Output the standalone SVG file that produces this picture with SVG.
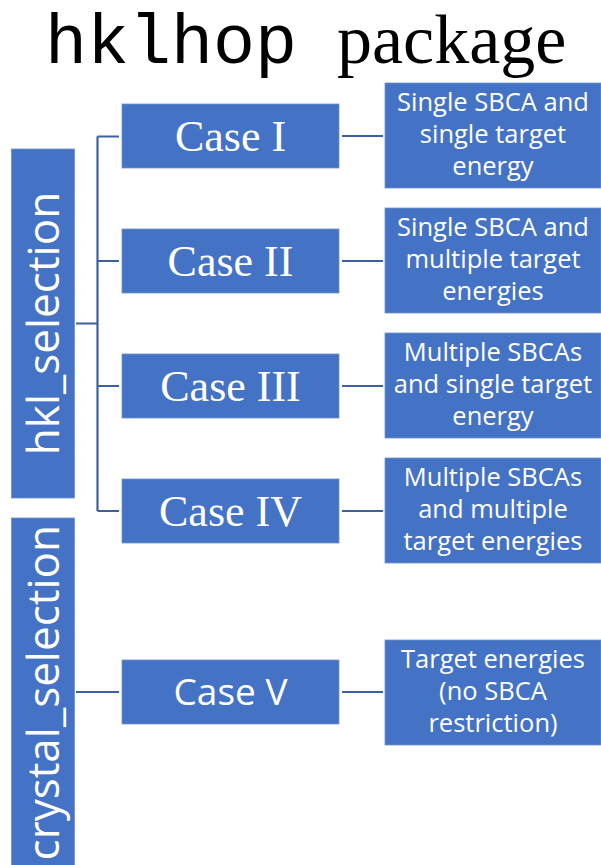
<svg xmlns="http://www.w3.org/2000/svg" width="601" height="865" viewBox="0 0 601 865">
<style>
.box{fill:#4472C4;stroke:#6f91d0;stroke-width:0.8}
.ln{stroke:#3f5fa3;stroke-width:2.2;fill:none}
.serif{font-family:"Liberation Serif",serif;fill:#fff;font-size:44px;text-anchor:middle}
.sans{font-family:"Open Sans","Noto Sans",sans-serif;fill:#fff;text-anchor:middle}
.desc{font-size:25.5px}
</style>
<rect width="601" height="865" fill="#fff"/>
<g id="title">
<text x="45" y="63" font-family="'Liberation Mono',monospace" font-size="70" fill="#000">hklhop</text>
<text x="337" y="63" font-family="'Liberation Serif',serif" font-size="70" fill="#000">package</text>
</g>
<g id="connectors">
<path class="ln" d="M76 323.5H97.5M97.5 136.5V511M97.5 136.5H119M97.5 261H119M97.5 386H119M97.5 511H119"/>
<path class="ln" d="M76 692H119"/>
<path class="ln" d="M342 136H383M342 261H383M342 386H383M342 511H383M342 692H383"/>
</g>
<g id="hkl_selection">
<rect class="box" x="11.5" y="149" width="63" height="349"/>
<text class="sans" font-size="44" transform="translate(59,323.5) rotate(-90)">hkl_selection</text>
</g>
<g id="crystal_selection">
<rect class="box" x="11.5" y="518" width="63" height="350"/>
<text class="sans" font-size="44" style="text-anchor:end" transform="translate(59,525) rotate(-90)">crystal_selection</text>
</g>
<g id="case1">
<rect class="box" x="122" y="104" width="217" height="64"/>
<text class="serif" x="230.5" y="151">Case I</text>
</g>
<g id="case2">
<rect class="box" x="122" y="229" width="217" height="64"/>
<text class="serif" x="230.5" y="276">Case II</text>
</g>
<g id="case3">
<rect class="box" x="122" y="354" width="217" height="64"/>
<text class="serif" x="230.5" y="401">Case III</text>
</g>
<g id="case4">
<rect class="box" x="122" y="479" width="217" height="64"/>
<text class="serif" x="230.5" y="526">Case IV</text>
</g>
<g id="case5">
<rect class="box" x="122" y="660" width="217" height="64"/>
<text class="sans" font-size="37" x="230.5" y="705">Case V</text>
</g>
<g id="desc1">
<rect class="box" x="385" y="83" width="216" height="105"/>
<text class="sans desc" x="493" y="111">Single SBCA and</text>
<text class="sans desc" x="493" y="143">single target</text>
<text class="sans desc" x="493" y="175">energy</text>
</g>
<g id="desc2">
<rect class="box" x="385" y="208" width="216" height="105"/>
<text class="sans desc" x="493" y="236">Single SBCA and</text>
<text class="sans desc" x="493" y="268">multiple target</text>
<text class="sans desc" x="493" y="300">energies</text>
</g>
<g id="desc3">
<rect class="box" x="385" y="333" width="216" height="105"/>
<text class="sans desc" x="493" y="361">Multiple SBCAs</text>
<text class="sans desc" x="493" y="393">and single target</text>
<text class="sans desc" x="493" y="425">energy</text>
</g>
<g id="desc4">
<rect class="box" x="385" y="458" width="216" height="105"/>
<text class="sans desc" x="493" y="486">Multiple SBCAs</text>
<text class="sans desc" x="493" y="518">and multiple</text>
<text class="sans desc" x="493" y="550">target energies</text>
</g>
<g id="desc5">
<rect class="box" x="385" y="640" width="216" height="105"/>
<text class="sans desc" x="493" y="668">Target energies</text>
<text class="sans desc" x="493" y="700">(no SBCA</text>
<text class="sans desc" x="493" y="732">restriction)</text>
</g>
</svg>
